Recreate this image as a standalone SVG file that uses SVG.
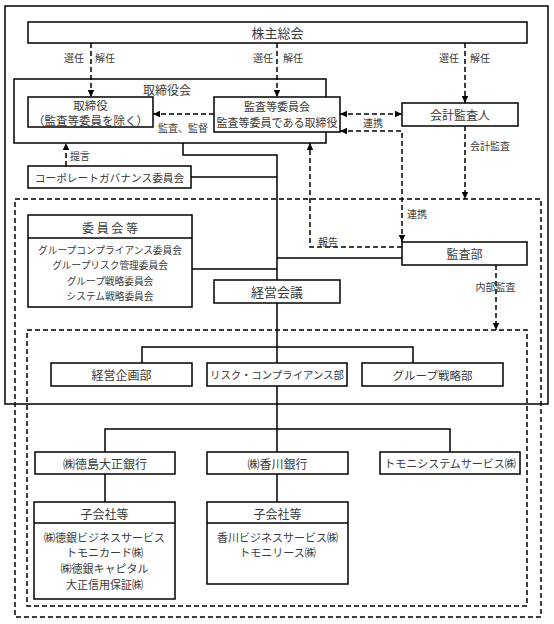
<svg xmlns="http://www.w3.org/2000/svg" width="554" height="624" viewBox="0 0 554 624">
<style>
text{font-family:"Noto Sans CJK JP","Noto Sans CJK SC",sans-serif;fill:#3a3a3a;text-anchor:middle;dominant-baseline:central}
.b{fill:#fff;stroke:#000;stroke-width:1.5}
.f{fill:none;stroke:#000;stroke-width:1.5}
.d{fill:none;stroke:#000;stroke-width:1.5;stroke-dasharray:5,3}
.s{fill:none;stroke:#000;stroke-width:1.5}
.l{font-size:10px}
.t12{font-size:12px}
.t11{font-size:11px}
.t13{font-size:13px}
</style>
<defs>
<marker id="a" viewBox="0 0 7 7" refX="7" refY="3.5" markerWidth="7" markerHeight="7" markerUnits="userSpaceOnUse" orient="auto-start-reverse">
<path d="M0,0.3 L7,3.5 L0,6.7 z" fill="#000"/>
</marker>
</defs>
<rect width="554" height="624" fill="#fff"/>
<g id="frames">
<rect class="f" x="5" y="6" width="543" height="398"/>
<rect class="d" x="15" y="199" width="526" height="418"/>
<rect class="d" x="27" y="330" width="500" height="276"/>
</g>
<g id="connectors">
<path class="s" d="M183,143 V155 H277 V280"/>
<path class="s" d="M191,177 H277"/>
<path class="s" d="M192,269 H277"/>
<path class="s" d="M277,258 H402"/>
<path class="s" d="M277,303 V363 M277,386 V452"/>
<path class="s" d="M142,363 V347 H413 V363"/>
<path class="s" d="M105,452 V429 H450 V452"/>
<path class="s" d="M105,474 V502 M277,474 V502"/>
<path class="d" d="M91,43 V97" marker-end="url(#a)"/>
<path class="d" d="M277,43 V97" marker-end="url(#a)"/>
<path class="d" d="M465,43 V103" marker-end="url(#a)"/>
<path class="d" d="M214,114 H153" marker-end="url(#a)"/>
<path class="d" d="M340,114 H402" marker-start="url(#a)" marker-end="url(#a)"/>
<path class="d" d="M340,131 H402 V242" marker-start="url(#a)" marker-end="url(#a)"/>
<path class="d" d="M402,247 H310 V143" marker-end="url(#a)"/>
<path class="d" d="M465,126 V199" marker-end="url(#a)"/>
<path class="d" d="M66,166 V143" marker-end="url(#a)"/>
<path class="d" d="M496,265 V330" marker-end="url(#a)"/>
<text class="l" x="74" y="57">選任</text>
<text class="l" x="105" y="57">解任</text>
<text class="l" x="263" y="57">選任</text>
<text class="l" x="293" y="57">解任</text>
<text class="l" x="449" y="57">選任</text>
<text class="l" x="480" y="57">解任</text>
<text class="l" x="183" y="127">監査、監督</text>
<text class="l" x="373" y="122">連携</text>
<text class="l" x="490" y="145">会計監査</text>
<text class="l" x="417" y="213">連携</text>
<text class="l" x="328" y="241">報告</text>
<text class="l" x="495.5" y="286">内部監査</text>
<text class="l" x="80" y="155">提言</text>
</g>
<g id="shareholders">
<rect class="b" x="28" y="22" width="499" height="21"/>
<text class="t13" x="277.5" y="32.5">株主総会</text>
</g>
<g id="board">
<rect class="f" x="14" y="79" width="312" height="64"/>
<text class="t12" x="167" y="89.5">取締役会</text>
</g>
<g id="directors">
<rect class="b" x="28" y="97" width="125" height="30"/>
<text style="font-size:11.5px" x="90.5" y="104.5">取締役</text>
<text style="font-size:11.5px" x="90.5" y="120">（監査等委員を除く）</text>
</g>
<g id="audit-committee">
<rect class="b" x="214" y="97" width="126" height="35"/>
<text class="t11" x="277" y="106">監査等委員会</text>
<text class="t11" x="277" y="122">監査等委員である取締役</text>
</g>
<g id="accounting-auditor">
<rect class="b" x="402" y="103" width="116" height="23"/>
<text class="t12" x="460" y="114.5">会計監査人</text>
</g>
<g id="governance">
<rect class="b" x="28" y="166" width="163" height="22"/>
<text style="font-size:10.7px" x="109.5" y="177">コーポレートガバナンス委員会</text>
</g>
<g id="committees">
<rect class="b" x="28" y="215" width="164" height="92"/>
<path class="s" d="M28,238 H192"/>
<text class="t12" x="110" y="227" textLength="56" lengthAdjust="spacing">委員会等</text>
<text style="font-size:9.7px" x="110" y="250">グループコンプライアンス委員会</text>
<text style="font-size:9.7px" x="110" y="265">グループリスク管理委員会</text>
<text style="font-size:9.7px" x="110" y="281">グループ戦略委員会</text>
<text style="font-size:9.7px" x="110" y="296">システム戦略委員会</text>
</g>
<g id="management">
<rect class="b" x="214" y="280" width="126" height="23"/>
<text class="t13" x="277" y="291.5">経営会議</text>
</g>
<g id="audit-dept">
<rect class="b" x="402" y="242" width="125" height="23"/>
<text class="t12" x="464.5" y="253.5">監査部</text>
</g>
<g id="planning">
<rect class="b" x="51" y="363" width="141" height="23"/>
<text class="t12" x="121.5" y="374.5">経営企画部</text>
</g>
<g id="risk">
<rect class="b" x="207" y="363" width="140" height="23"/>
<text style="font-size:10.5px" x="277" y="374.5" textLength="134" lengthAdjust="spacingAndGlyphs">リスク・コンプライアンス部</text>
</g>
<g id="strategy">
<rect class="b" x="362" y="363" width="141" height="23"/>
<text style="font-size:11.5px" x="432.5" y="374.5">グループ戦略部</text>
</g>
<g id="tokushima">
<rect class="b" x="35" y="452" width="140" height="22"/>
<text class="t12" x="105" y="463">㈱徳島大正銀行</text>
</g>
<g id="kagawa">
<rect class="b" x="207" y="452" width="141" height="22"/>
<text class="t12" x="277.5" y="463">㈱香川銀行</text>
</g>
<g id="tomoni-system">
<rect class="b" x="380" y="452" width="140" height="22"/>
<text class="t11" x="450" y="463">トモニシステムサービス㈱</text>
</g>
<g id="subsidiaries-1">
<rect class="b" x="34" y="502" width="141" height="97"/>
<path class="s" d="M34,523 H175"/>
<text class="t12" x="104.5" y="513">子会社等</text>
<text class="t11" x="104.5" y="537">㈱徳銀ビジネスサービス</text>
<text class="t11" x="104.5" y="552">トモニカード㈱</text>
<text class="t11" x="104.5" y="568">㈱徳銀キャピタル</text>
<text class="t11" x="104.5" y="584">大正信用保証㈱</text>
</g>
<g id="subsidiaries-2">
<rect class="b" x="207" y="502" width="141" height="82"/>
<path class="s" d="M207,523 H348"/>
<text class="t12" x="277.5" y="513">子会社等</text>
<text class="t11" x="277.5" y="537">香川ビジネスサービス㈱</text>
<text class="t11" x="277.5" y="552">トモニリース㈱</text>
</g>
</svg>
